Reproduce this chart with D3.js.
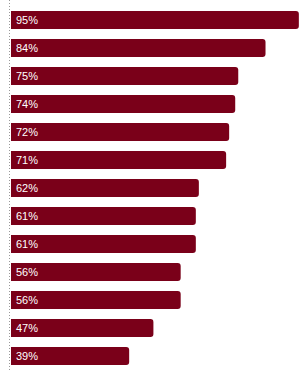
<!DOCTYPE html>
<html>
<head>
<meta charset="utf-8">
<script src="https://cdn.jsdelivr.net/npm/d3@7"></script>
<style>
  body { margin: 0; background: #fff; }
  svg { display: block; }
</style>
</head>
<body>
<div id="chart"></div>
<script>
// values, top to bottom
var categories = ["a", "b", "c", "d", "e", "f", "g", "h", "i", "j", "k", "l", "m"];
var values = [95, 84, 75, 74, 72, 71, 62, 61, 61, 56, 56, 47, 39];

var width = 308, height = 376;
var margin = {top: 6, right: 0, bottom: 6, left: 11};

var data = categories.map((c, i) => ({cat: c, value: values[i]}));

var svg = d3.select("#chart")
    .append("svg")
    .attr("width", width)
    .attr("height", height);

var x = d3.scaleLinear()
    .domain([0, 100])
    .range([margin.left, 314]);

var y = d3.scaleBand()
    .domain(categories)
    .range([margin.top, margin.top + 28 * categories.length])
    .paddingInner(10 / 28)
    .paddingOuter(5 / 28);

// dotted baseline on the left
svg.append("line")
    .attr("x1", margin.left - 1.5)
    .attr("x2", margin.left - 1.5)
    .attr("y1", 0)
    .attr("y2", 372)
    .attr("stroke", "#999")
    .attr("stroke-width", 1)
    .attr("stroke-dasharray", "1,2");

// bar shape: square on the left, rounded on the right
function barPath(x0, y0, w, h, r) {
    return "M" + x0 + "," + y0 +
        "H" + (x0 + w - r) +
        "Q" + (x0 + w) + "," + y0 + " " + (x0 + w) + "," + (y0 + r) +
        "V" + (y0 + h - r) +
        "Q" + (x0 + w) + "," + (y0 + h) + " " + (x0 + w - r) + "," + (y0 + h) +
        "H" + x0 + "Z";
}

svg.selectAll(".bar")
    .data(data)
    .enter().append("path")
    .attr("class", "bar")
    .attr("d", d => barPath(x(0), y(d.cat), x(d.value) - x(0), y.bandwidth(), 3))
    .attr("fill", "#7a0019");

svg.selectAll(".label")
    .data(data)
    .enter().append("text")
    .attr("class", "label")
    .attr("x", x(0) + 5)
    .attr("y", d => y(d.cat) + y.bandwidth() / 2)
    .attr("dy", "0.35em")
    .attr("fill", "#fff")
    .style("font-family", "Liberation Sans, Arial, sans-serif")
    .style("font-size", "11px")
    .text(d => d.value + "%");
</script>
</body>
</html>
